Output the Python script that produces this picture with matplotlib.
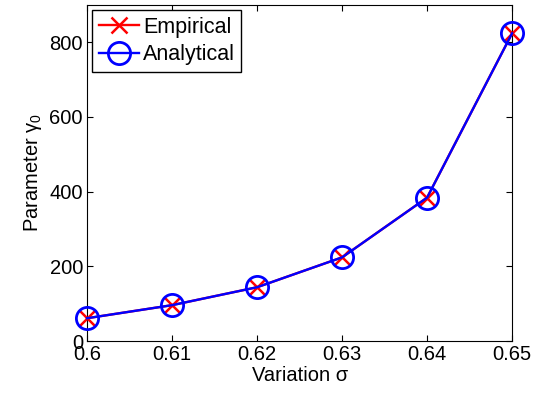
import matplotlib
matplotlib.use('Agg')
import matplotlib.pyplot as plt

sigma = [0.60, 0.61, 0.62, 0.63, 0.64, 0.65]
empirical = [61, 96, 144, 224, 384, 824]
analytical = [61, 96, 144, 224, 384, 824]
xtick_labels = ['0.6', '0.61', '0.62', '0.63', '0.64', '0.65']

plt.rcParams['font.family'] = ['Liberation Sans', 'DejaVu Sans']
plt.rcParams['mathtext.fontset'] = 'custom'
plt.rcParams['mathtext.rm'] = 'Liberation Sans'
plt.rcParams['mathtext.it'] = 'Liberation Sans'

fig = plt.figure(figsize=(5.34, 3.94), dpi=100)
ax = fig.add_axes([0.163, 0.1345, 0.796, 0.853])

ax.plot(sigma, empirical, color='red', marker='x', markersize=11, markeredgewidth=1.8,
        linewidth=1.7, label='Empirical', clip_on=False, zorder=3)
ax.plot(sigma, analytical, color='blue', marker='o', markersize=16, markeredgewidth=2,
        markerfacecolor='none', linewidth=1.7, label='Analytical', clip_on=False, zorder=4)

ax.set_xlim(0.6, 0.65)
ax.set_ylim(0, 900)
ax.set_xticks(sigma)
ax.set_xticklabels(xtick_labels)
ax.set_yticks([0, 200, 400, 600, 800])
ax.tick_params(direction='in', top=True, right=True, labelsize=14.5, length=4, pad=3)
ax.set_xlabel('Variation σ', fontsize=14.5, labelpad=1)
ax.set_ylabel('Parameter $\\gamma_0$', fontsize=14.5, labelpad=4)

leg = ax.legend(loc='upper left', fontsize=15.5, fancybox=False, edgecolor='black',
                borderaxespad=0.25, handlelength=1.85, borderpad=0.3, labelspacing=0.3,
                handletextpad=0.2, framealpha=1)
leg.get_frame().set_linewidth(1)

plt.savefig('out.png', dpi=100)
